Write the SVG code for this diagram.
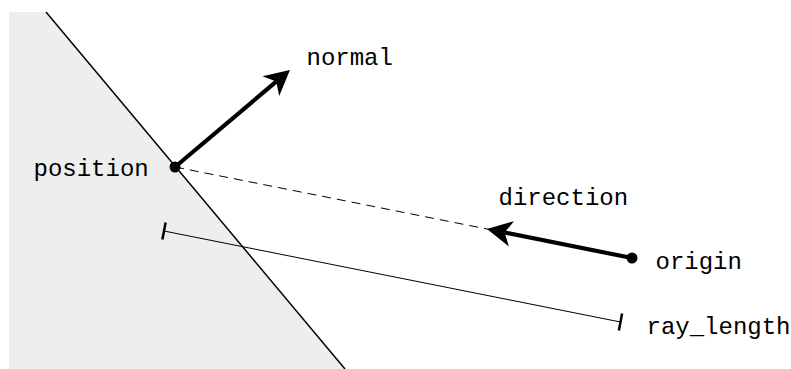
<svg xmlns="http://www.w3.org/2000/svg" width="791" height="369" viewBox="0 0 791 369">
<style>
text{font-family:"Liberation Mono","Courier New",monospace;font-size:24px;fill:#000}
.thick{stroke:#000;stroke-width:4.2;fill:none}
.thin{stroke:#000;stroke-width:1;fill:none}
.tick{stroke:#000;stroke-width:2.5}
</style>
<defs>
<marker id="ah" markerUnits="userSpaceOnUse" markerWidth="26" markerHeight="28" viewBox="0 -14 26 28" refX="7" refY="0" orient="auto" overflow="visible">
<path d="M25,0 L0,-13 L7,0 L0,13 Z" fill="#000"/>
</marker>
</defs>
<g id="surface">
<polygon points="9,12 46,12 345,369 9,369" fill="#eeeeee"/>
<line x1="46" y1="12" x2="345" y2="369" stroke="#000" stroke-width="1.5"/>
</g>
<g id="connectors">
<line class="thin" x1="175" y1="167" x2="490" y2="229.6" stroke-dasharray="9,6"/>
<line class="thick" x1="175" y1="167" x2="276.2" y2="81.6" marker-end="url(#ah)"/>
<line class="thick" x1="632" y1="258" x2="504.6" y2="232.5" marker-end="url(#ah)"/>
<line class="thin" x1="164" y1="231" x2="620.5" y2="322"/>
<line class="tick" x1="165.6" y1="222.5" x2="162.4" y2="239.5"/>
<line class="tick" x1="622.1" y1="313.5" x2="618.9" y2="330.5"/>
</g>
<g id="position"><circle cx="175" cy="167" r="5.5" fill="#000"/><text x="33.5" y="176">position</text></g>
<g id="normal"><text x="306.5" y="65">normal</text></g>
<g id="direction"><text x="498.5" y="205">direction</text></g>
<g id="origin"><circle cx="632" cy="258" r="5.5" fill="#000"/><text x="655.5" y="269">origin</text></g>
<g id="ray_length"><text x="646.5" y="334">ray_length</text></g>
</svg>
